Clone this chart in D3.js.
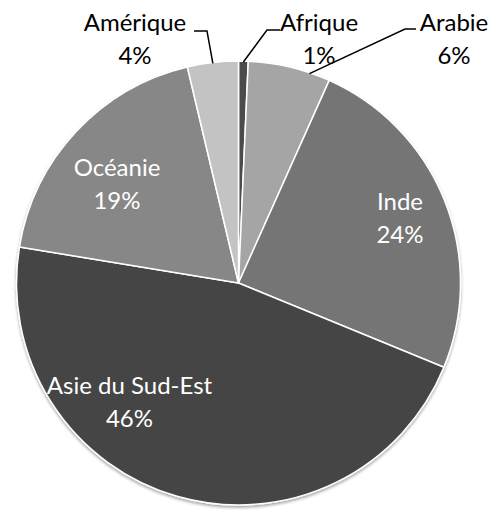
<!DOCTYPE html>
<html>
<head>
<meta charset="utf-8">
<script src="https://cdn.jsdelivr.net/npm/d3@7/dist/d3.min.js"></script>
<style>
  html, body { margin: 0; padding: 0; background: #fff; }
  svg { display: block; }
  text { font-family: Lato, "Open Sans", sans-serif; }
</style>
</head>
<body>
<div id="chart"></div>
<script>
const categories = ["Afrique", "Arabie", "Inde", "Asie du Sud-Est", "Océanie", "Amérique"];
const values = [0.7, 6.0, 24.5, 46.4, 18.7, 3.7];
const percentLabels = ["1%", "6%", "24%", "46%", "19%", "4%"];
const colors = ["#4b4b4b", "#a5a5a5", "#747474", "#444444", "#878787", "#c3c3c3"];

const W = 489, H = 510;
const cx = 238.5, cy = 283, R = 222;
const fontSize = 24, lineGap = 33;

const labelPos = [
  { x: 319, y: 31, inside: false, leader: [[280, 30], [267, 30]], anchorFrac: 0.5 },
  { x: 454, y: 31, inside: false, leader: [[416, 29], [405, 29]], anchorFrac: 0.75 },
  { x: 400, y: 210, inside: true },
  { x: 129.5, y: 394, inside: true },
  { x: 117, y: 176, inside: true },
  { x: 135, y: 31, inside: false, leader: [[194, 31], [207, 31]], anchorFrac: 0.5 }
];

const svg = d3.select("#chart").append("svg")
  .attr("width", W).attr("height", H);

const defs = svg.append("defs");
const f = defs.append("filter").attr("id", "shadow")
  .attr("x", "-10%").attr("y", "-10%").attr("width", "120%").attr("height", "120%");
f.append("feDropShadow").attr("dx", 0).attr("dy", 2).attr("stdDeviation", 1.8)
  .attr("flood-color", "#000").attr("flood-opacity", 0.35);

const data = categories.map((c, i) => ({ cat: c, value: values[i], pct: percentLabels[i], color: colors[i], pos: labelPos[i] }));

const pie = d3.pie().value(d => d.value).sort(null);
const arcs = pie(data);
const arc = d3.arc().innerRadius(0).outerRadius(R);

const g = svg.append("g").attr("transform", `translate(${cx},${cy})`);

g.append("g").attr("filter", "url(#shadow)")
  .selectAll("path").data(arcs).join("path")
  .attr("d", arc)
  .attr("fill", d => d.data.color)
  .attr("stroke", "#fff")
  .attr("stroke-width", 1.5)
  .attr("stroke-linejoin", "round");

arcs.forEach(a => {
  const p = a.data.pos;
  if (p.inside) return;
  const ang = a.startAngle + (a.endAngle - a.startAngle) * p.anchorFrac;
  const ex = cx + Math.sin(ang) * (R - 1);
  const ey = cy - Math.cos(ang) * (R - 1);
  const pts = p.leader.concat([[ex, ey]]);
  svg.append("path")
    .attr("d", d3.line()(pts))
    .attr("fill", "none")
    .attr("stroke", "#000")
    .attr("stroke-width", 1.5);
});

arcs.forEach(a => {
  const p = a.data.pos;
  const t = svg.append("text")
    .attr("text-anchor", "middle")
    .attr("font-size", fontSize)
    .attr("fill", p.inside ? "#ffffff" : "#000000");
  t.append("tspan").attr("x", p.x).attr("y", p.y).text(a.data.cat);
  t.append("tspan").attr("x", p.x).attr("y", p.y + lineGap).text(a.data.pct);
});
</script>
</body>
</html>
